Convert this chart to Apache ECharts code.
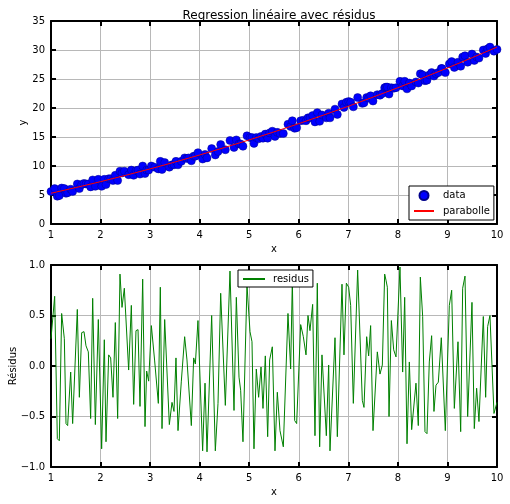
<!DOCTYPE html>
<html><head><meta charset="utf-8">
<script src="https://cdn.jsdelivr.net/npm/echarts@6/dist/echarts.min.js"></script>
<style>html,body{margin:0;padding:0;background:#fff}#c{width:510px;height:504px}</style>
</head><body><div id="c"></div>
<script>
// sample x positions (vertices of residual polyline)
const xs = [1.000,1.074,1.128,1.168,1.215,1.269,1.303,1.336,1.397,1.437,1.531,1.572,1.619,1.666,1.706,1.753,1.800,1.841,1.895,1.955,2.022,2.076,
2.110,2.164,2.204,2.251,2.298,2.345,2.392,2.433,2.480,2.567,2.621,2.668,2.715,2.756,2.796,2.850,2.897,2.930,2.971,3.025,3.092,3.166,3.206,
3.240,3.294,3.388,3.442,3.482,3.522,3.563,3.630,3.697,3.744,3.778,3.832,3.879,3.913,3.966,4.060,4.108,4.148,4.242,4.316,
4.370,4.424,4.518,4.612,4.693,4.740,4.794,4.827,4.874,4.955,5.016,5.056,5.096,5.143,5.190,5.238,5.278,5.325,5.372,5.412,5.466,
5.520,5.567,5.621,5.688,5.782,5.836,5.870,5.917,5.957,6.038,6.092,6.146,6.186,6.226,6.280,6.327,6.374,6.421,6.468,6.556,6.603,
6.630,6.731,6.778,6.872,6.912,6.960,7.007,7.047,7.101,7.188,7.282,7.316,7.370,7.410,7.450,7.498,7.585,7.639,7.686,7.733,
7.760,7.787,7.821,7.868,7.915,7.962,8.042,8.096,8.137,8.184,8.231,8.278,8.365,8.412,8.453,8.500,8.547,8.587,8.634,8.681,8.728,8.769,8.816,8.876,
8.890,8.957,9.038,9.085,9.139,9.213,9.267,9.307,9.354,9.408,9.495,9.542,9.589,9.636,9.724,9.771,9.811,9.858,9.939,10.000];

// observed data values (blue points)
const dataY = [5.6,6.1,4.8,4.9,6.2,6.1,5.3,5.4,6.0,5.6,6.9,6.1,6.8,7.0,6.9,6.9,6.4,7.6,6.5,7.7,6.5,7.7,
6.8,7.8,7.8,7.5,8.4,7.5,9.1,8.8,9.1,8.5,9.3,8.4,9.2,9.3,8.6,10.0,8.7,9.3,9.3,10.0,9.8,9.5,10.8,
9.4,10.6,9.8,10.2,10.2,10.8,10.2,10.8,11.4,11.3,11.4,10.9,11.7,11.7,12.3,11.2,12.0,11.4,13.0,11.9,
12.5,13.7,12.8,14.4,13.2,14.5,13.8,13.8,13.4,15.2,14.9,14.9,13.9,14.9,14.7,15.1,14.8,15.5,14.8,15.7,16.0,
15.1,15.8,15.6,15.6,17.2,16.8,17.8,16.5,16.6,17.8,17.9,17.8,18.3,18.3,18.7,17.6,19.2,17.7,18.8,18.3,19.1,
18.3,19.8,18.9,20.7,20.1,21.0,21.1,21.0,20.2,21.8,20.8,20.9,21.8,21.7,22.1,21.2,22.3,22.2,22.5,23.5,
23.6,23.6,22.4,23.5,23.4,23.5,24.6,23.8,24.6,23.3,24.3,23.8,24.5,24.3,25.9,25.7,24.7,24.8,25.7,26.1,25.5,25.9,26.1,26.8,
26.8,26.1,27.6,28.0,27.0,27.9,27.2,28.8,29.0,27.9,29.3,28.2,28.8,28.6,30.0,29.4,30.2,30.5,29.8,30.1];

// residuals (green line)
const residY = [0.27,0.69,-0.72,-0.74,0.52,0.27,-0.57,-0.59,-0.06,-0.57,0.56,-0.31,0.33,0.34,0.20,0.14,-0.52,0.67,-0.58,0.46,-0.82,0.26,
-0.75,0.11,0.08,-0.31,0.43,-0.52,0.91,0.58,0.77,-0.04,0.60,-0.38,0.35,0.36,-0.40,0.86,-0.60,-0.05,-0.15,0.40,0.05,-0.37,0.78,
-0.62,0.46,-0.58,-0.36,-0.45,0.08,-0.64,-0.15,0.29,0.06,0.07,-0.59,0.08,0.02,0.45,-0.84,-0.17,-0.85,0.50,-0.84,
-0.37,0.72,-0.39,0.94,-0.44,0.68,-0.11,-0.24,-0.75,0.80,0.34,0.24,-0.82,-0.03,-0.31,-0.01,-0.42,0.10,-0.70,0.06,0.19,
-0.84,-0.26,-0.64,-0.80,0.52,-0.03,0.85,-0.54,-0.57,0.41,0.29,0.11,0.50,0.35,0.61,-0.69,0.82,-0.80,0.11,-0.69,0.01,
-0.84,0.28,-0.70,0.81,0.11,0.82,0.78,0.60,-0.37,0.95,-0.34,-0.41,0.29,0.10,0.40,-0.64,0.14,-0.08,0.01,0.91,
0.85,0.78,-0.50,0.45,0.16,0.09,0.98,-0.06,0.68,-0.77,0.04,-0.63,-0.17,-0.59,0.88,0.49,-0.65,-0.67,0.04,0.30,-0.45,-0.19,-0.16,0.28,
0.29,-0.64,0.60,0.75,-0.42,0.24,-0.65,0.77,0.89,-0.50,0.63,-0.62,-0.22,-0.55,0.49,-0.31,0.39,0.50,-0.47,-0.36];

// fitted parabola read at regular x
const fitX = [1,1.5,2,2.5,3,3.5,4,4.5,5,5.5,6,6.5,7,7.5,8,8.5,9,9.5,10];
const fitY = [5.30,6.28,7.30,8.38,9.50,10.68,11.90,13.18,14.50,15.88,17.30,18.78,20.30,21.88,23.50,25.18,26.90,28.68,30.50];

const xTicks = [1,2,3,4,5,6,7,8,9,10];
const yTicksTop = [0,5,10,15,20,25,30,35];
const yTicksBottom = [-1.0,-0.5,0.0,0.5,1.0];

const FONT = 'DejaVu Sans';
const lab = {color:'#000', fontFamily:FONT, fontSize:10};
const axLine = {show:true, onZero:false, lineStyle:{color:'#000', width:2}};
const tick = {show:true, inside:true, length:5, lineStyle:{color:'#000', width:2}};
const grid = {show:true, lineStyle:{color:'#b8b8b8', width:1}};
const hidden = {color:'rgba(0,0,0,0)', borderColor:'rgba(0,0,0,0)', borderWidth:0};

function xMain(gi, name, nameGap){
  return {type:'value', gridIndex:gi, position:'bottom', min:xTicks[0], max:xTicks[xTicks.length-1], interval:1,
    axisLine:axLine, axisTick:tick, splitLine:grid, axisLabel:Object.assign({margin:6}, lab),
    name:name, nameLocation:'middle', nameGap:nameGap, nameMoveOverlap:false,
    nameTextStyle:{color:'#000', fontFamily:FONT, fontSize:10}};
}
function xMirror(gi){
  return {type:'value', gridIndex:gi, position:'top', min:xTicks[0], max:xTicks[xTicks.length-1], interval:1,
    axisLine:axLine, axisTick:tick, splitLine:{show:false}, axisLabel:{show:false}};
}
function yMirror(gi, ticks, iv){
  return {type:'value', gridIndex:gi, position:'right', min:ticks[0], max:ticks[ticks.length-1], interval:iv,
    axisLine:axLine, axisTick:tick, splitLine:{show:false}, axisLabel:{show:false}};
}

const chart = echarts.init(document.getElementById('c'), null, {renderer:'canvas'});
chart.setOption({
  animation:false,
  backgroundColor:'#fff',
  title:{text:'Regression linéaire avec résidus', left:274, top:5, textAlign:'center',
    textStyle:{color:'#000', fontFamily:FONT, fontSize:12, fontWeight:'normal'}},
  grid:[{left:51, top:21, width:446, height:203, containLabel:false, outerBoundsMode:'none'},
        {left:51, top:265, width:446, height:202, containLabel:false, outerBoundsMode:'none'}],
  xAxis:[xMain(0,'x',20), xMirror(0), xMain(1,'x',20), xMirror(1)],
  yAxis:[
    {type:'value', gridIndex:0, min:0, max:35, interval:5, axisLine:axLine, axisTick:tick, splitLine:grid,
      axisLabel:Object.assign({margin:6}, lab), name:'y', nameLocation:'middle', nameGap:23, nameRotate:90,
      nameMoveOverlap:false, nameTextStyle:{color:'#000', fontFamily:FONT, fontSize:10}},
    yMirror(0, yTicksTop, 5),
    {type:'value', gridIndex:1, min:-1, max:1, interval:0.5, axisLine:axLine, axisTick:tick, splitLine:grid,
      axisLabel:Object.assign({margin:6, formatter:v=>v.toFixed(1).replace('-','\u2212')}, lab),
      name:'Résidus', nameLocation:'middle', nameGap:33, nameRotate:90, nameMoveOverlap:false,
      nameTextStyle:{color:'#000', fontFamily:FONT, fontSize:10}},
    yMirror(1, yTicksBottom, 0.5)
  ],
  legend:[
    {data:[{name:'data', icon:'circle'},{name:'parabolle', itemStyle:hidden}], orient:'vertical', left:409, top:186,
      itemWidth:20, itemHeight:9, itemGap:5, padding:[4,4,4,4], backgroundColor:'#fff', borderColor:'#000', borderWidth:1, borderRadius:0,
      textStyle:{color:'#000', fontFamily:FONT, fontSize:10, padding:[0,0,0,4]}},
    {data:[{name:'residus', itemStyle:hidden}], left:238, top:270, itemWidth:22, itemHeight:9, padding:[4,4,3,4],
      backgroundColor:'#fff', borderColor:'#000', borderWidth:1, borderRadius:0,
      textStyle:{color:'#000', fontFamily:FONT, fontSize:10, padding:[0,0,0,3]}}
  ],
  series:[
    {name:'data', type:'scatter', xAxisIndex:0, yAxisIndex:0, symbol:'circle', symbolSize:8,
      itemStyle:{color:'#0000ff', borderColor:'#00008b', borderWidth:0.5, opacity:1},
      data:xs.map((x,i)=>[x, dataY[i]]), z:2},
    {name:'parabolle', type:'line', xAxisIndex:0, yAxisIndex:0, showSymbol:false, symbol:'none',
      lineStyle:{color:'#ff0000', width:1}, itemStyle:{color:'#ff0000'},
      data:fitX.map((x,i)=>[x, fitY[i]]), z:3},
    {name:'residus', type:'line', xAxisIndex:2, yAxisIndex:2, showSymbol:false, symbol:'none',
      lineStyle:{color:'#008000', width:1}, itemStyle:{color:'#008000'},
      data:xs.map((x,i)=>[x, residY[i]]), z:2}
  ]
});
</script></body></html>
